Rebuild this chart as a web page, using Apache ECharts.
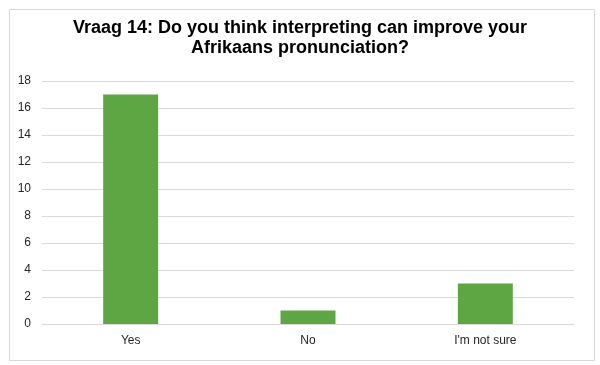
<!DOCTYPE html>
<html><head><meta charset="utf-8">
<script src="https://cdn.jsdelivr.net/npm/echarts@6/dist/echarts.min.js"></script>
<style>html,body{margin:0;padding:0;background:#fff}#c{width:600px;height:365px}</style>
</head><body><div id="c"></div>
<script>
const titleText = "Vraag 14: Do you think interpreting can improve your\nAfrikaans pronunciation?";
const categories = ["Yes", "No", "I'm not sure"];
const values = [17, 1, 3];
const yMin = 0, yMax = 18, yInterval = 2;

const chart = echarts.init(document.getElementById('c'), null, {renderer: 'canvas'});
chart.setOption({
  animation: false,
  backgroundColor: '#fff',
  graphic: [{
    type: 'rect', left: 7, top: 7,
    shape: {x: 0.5, y: 0.5, width: 585, height: 351},
    style: {fill: 'none', stroke: '#d9d9d9', lineWidth: 1}
  }],
  title: {
    text: titleText, left: 'center', top: 13,
    textStyle: {fontFamily: 'Liberation Sans, Arial', fontWeight: 'bold', fontSize: 18, lineHeight: 20, color: '#000'}
  },
  grid: {left: 42, right: 26, top: 81, bottom: 41, containLabel: false},
  xAxis: {
    type: 'category', data: categories,
    axisLine: {lineStyle: {color: '#d9d9d9'}},
    axisTick: {show: false},
    axisLabel: {color: '#262626', fontFamily: 'Liberation Sans, Arial', fontSize: 12, margin: 11}
  },
  yAxis: {
    type: 'value', min: yMin, max: yMax, interval: yInterval,
    axisLine: {show: false}, axisTick: {show: false},
    splitLine: {lineStyle: {color: '#d9d9d9'}},
    axisLabel: {color: '#262626', fontFamily: 'Liberation Sans, Arial', fontSize: 12, margin: 11}
  },
  series: [{
    type: 'bar', data: values, barWidth: '31%',
    itemStyle: {color: '#5ea544'}
  }]
});
</script></body></html>
